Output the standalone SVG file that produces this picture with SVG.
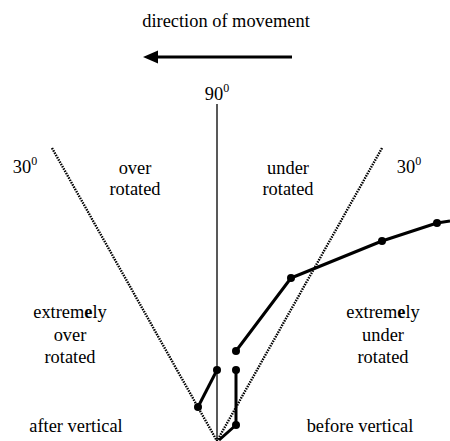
<svg xmlns="http://www.w3.org/2000/svg" width="450" height="441" viewBox="0 0 450 441">
<style>
text{font-family:"Liberation Serif","Times New Roman",serif;font-size:18.4px;fill:#000;text-anchor:middle}
.sup{font-size:12px}
.dot{stroke:#000;stroke-width:2.4;stroke-dasharray:1.5 1.1;fill:none}
.data{stroke:#000;stroke-width:3;fill:none;stroke-linejoin:round}
.pt{fill:#000}
</style>
<g id="title"><text x="226" y="27">direction of  movement</text></g>
<g id="arrow"><line x1="292" y1="57" x2="150" y2="57" stroke="#000" stroke-width="3"/><path d="M143,57 L158,50.5 L158,63.5 Z" fill="#000"/></g>
<g id="label90"><text x="217" y="100">90<tspan class="sup" dy="-8">0</tspan></text></g>
<g id="axes">
<line x1="217" y1="104" x2="217" y2="441" stroke="#222" stroke-width="1.5"/>
<line class="dot" x1="52" y1="148" x2="217" y2="441"/>
<line class="dot" x1="382" y1="148" x2="217" y2="441"/>
</g>
<g id="label30left"><text x="25" y="173">30<tspan class="sup" dy="-8">0</tspan></text></g>
<g id="label30right"><text x="409" y="173">30<tspan class="sup" dy="-8">0</tspan></text></g>
<g id="over-rotated"><text x="135" y="174">over</text><text x="135" y="195">rotated</text></g>
<g id="under-rotated"><text x="288" y="174">under</text><text x="288" y="195">rotated</text></g>
<g id="extremely-over"><text x="70" y="318">extrem<tspan font-weight="bold">e</tspan>ly</text><text x="70" y="341">over</text><text x="70" y="363">rotated</text></g>
<g id="extremely-under"><text x="383" y="318">extrem<tspan font-weight="bold">e</tspan>ly</text><text x="383" y="341">under</text><text x="383" y="363">rotated</text></g>
<g id="after-vertical"><text x="76" y="432">after vertical</text></g>
<g id="before-vertical"><text x="360" y="432">before vertical</text></g>
<g id="connectors">
<polyline class="data" points="450,221 437,223 382,241 291,278 236,351"/>
<polyline class="data" points="217,370 198,407"/>
<polyline class="data" points="236,370 236,425 219,440"/>
</g>
<g id="points">
<circle class="pt" cx="437" cy="223" r="4"/>
<circle class="pt" cx="382" cy="241" r="4"/>
<circle class="pt" cx="291" cy="278" r="4"/>
<circle class="pt" cx="236" cy="351" r="4"/>
<circle class="pt" cx="217" cy="370" r="4"/>
<circle class="pt" cx="198" cy="407" r="4"/>
<circle class="pt" cx="236" cy="370" r="4"/>
<circle class="pt" cx="236" cy="425" r="4"/>
</g>
</svg>
